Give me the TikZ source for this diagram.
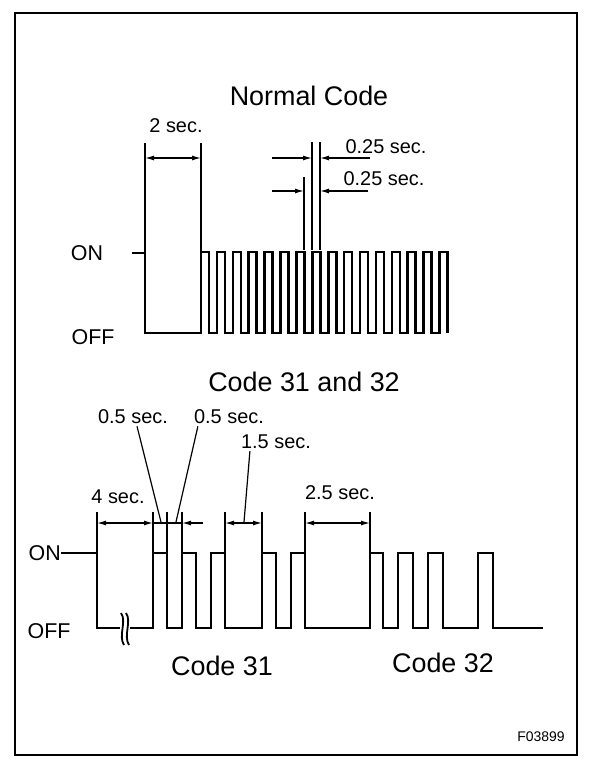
\documentclass[tikz,border=0pt]{standalone}
\usepackage{fontspec}
\setmainfont{Liberation Sans}
\usetikzlibrary{arrows.meta}

\tikzset{
  wave/.style={line width=2.6bp, line join=miter},
  dimline/.style={line width=1.2bp},
  dimarrow/.style={dimline, -{Latex[length=9bp,width=5bp]}},
  dimboth/.style={dimline, {Latex[length=9bp,width=5bp]}-{Latex[length=9bp,width=5bp]}},
  bigtext/.style={font=\fontsize{27}{31}\selectfont, inner sep=0pt},
  smalltext/.style={font=\fontsize{20}{23}\selectfont, inner sep=0pt},
  leveltext/.style={font=\fontsize{21.5}{24}\selectfont, inner sep=0pt},
}

\begin{document}
\begin{tikzpicture}[x=1bp,y=-1bp]
    \useasboundingbox (0,0) rectangle (608,768);
    % Frame
    \draw[line width=2.6bp] (15,13) rectangle (577,755);

    % Normal code
    \node[bigtext] (normal) at (309,96) {Normal Code};
    \node[leveltext] (on1) at (87,253) {ON};
    \node[leveltext] (off1) at (93,337) {OFF};
    \draw[wave] (132,253) -- (145,253) -- (145,333)
        \foreach \k in {0,...,15} {
            -- ({201+15.9*\k},333) -- ({201+15.9*\k},252)
            -- ({209+15.9*\k},252) -- ({209+15.9*\k},333)};
    % 2 sec.
    \draw[dimline] (145,143) -- (145,253);
    \draw[dimline] (201,143) -- (201,252);
    \draw[dimboth] (145,158) -- (201,158);
    \node[smalltext] (twosec) at (176,126) {2 sec.};
    % 0.25 sec.
    \draw[dimline] (304,177) -- (304,250);
    \draw[dimline] (312,142) -- (312,250);
    \draw[dimline] (320,142) -- (320,250);
    \draw[dimarrow] (272,158) -- (312,158);
    \draw[dimarrow] (370,158) -- (320,158);
    \draw[dimarrow] (272,191) -- (304,191);
    \draw[dimarrow] (368,191) -- (320,191);
    \node[smalltext] (quarta) at (386,147) {0.25 sec.};
    \node[smalltext] (quartb) at (384,179) {0.25 sec.};

    % Code 31 and 32
    \node[bigtext] (codes) at (304,382) {Code 31 and 32};
    \node[leveltext, anchor=east] (on2) at (61,553) {ON};
    \node[leveltext] (off2) at (49,631) {OFF};
    \draw[wave] (on2.east) -- (97,553) -- (97,628) -- (120,628);
    \draw[wave] (130,628)
        \foreach \r/\f in {153/167,182/196,211/225,262/276,291/305,370/383,398/413,428/443,478/493} {
            -- (\r,628) -- (\r,553) -- (\f,553) -- (\f,628)} -- (543,628);
    % break mark
    \draw[line width=1.8bp] (121,613) .. controls (127,621) and (118,636) .. (124,645);
    \draw[line width=1.8bp] (126,613) .. controls (132,621) and (123,636) .. (129,645);
    % dimensions
    \foreach \x in {97,153,167,182,225,262,305,370}
        \draw[dimline] (\x,512) -- (\x,553);
    \draw[dimboth] (97,523) -- (153,523);
    \draw[dimline] (153,523) -- (182,523);
    \draw[dimarrow] (203,523) -- (182,523);
    \draw[dimboth] (225,523) -- (262,523);
    \draw[dimboth] (305,523) -- (370,523);
    \coordinate (tipa) at (161,522);
    \coordinate (tipb) at (176,522);
    \coordinate (tipc) at (244,522);
    \node[smalltext] (foursec) at (118,497) {4 sec.};
    \node[smalltext] (halfa) at (133,417) {0.5 sec.};
    \node[smalltext] (halfb) at (229,417) {0.5 sec.};
    \node[smalltext] (onehalf) at (276,442) {1.5 sec.};
    \node[smalltext] (twohalf) at (340,493) {2.5 sec.};
    \draw[dimline] ([xshift=4bp,yshift=-2bp]halfa.south) -- (tipa);
    \draw[dimline] ([xshift=4bp,yshift=-2bp]halfb.south west) -- (tipb);
    \draw[dimline] ([xshift=9bp,yshift=-2bp]onehalf.south west) -- (tipc);
    \node[bigtext] (code31) at (222,666) {Code 31};
    \node[bigtext] (code32) at (443,663) {Code 32};
    \node[font=\fontsize{14}{16}\selectfont, inner sep=0pt] (figno) at (541,737) {F03899};
\end{tikzpicture}
\end{document}
